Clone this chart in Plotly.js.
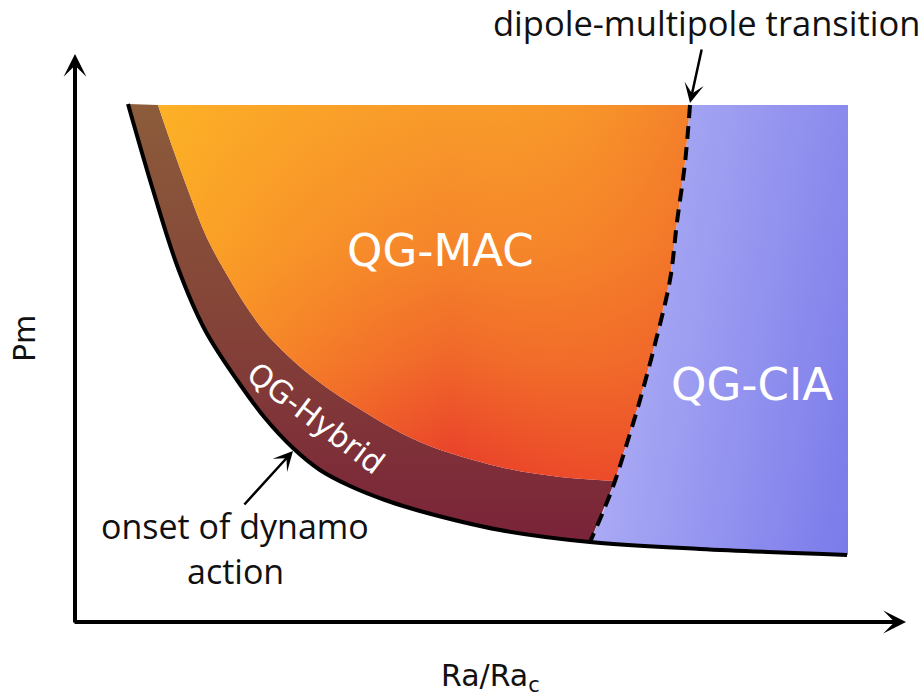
<!DOCTYPE html>
<html>
<head>
<meta charset="utf-8">
<script src="https://cdn.plot.ly/plotly-3.0.1.min.js"></script>
<style>
  html, body { margin: 0; padding: 0; background: #ffffff; }
  #chart { width: 924px; height: 697px; }
</style>
</head>
<body>
<div id="chart"></div>
<script>
// ---- schematic data (in schematic units; y grows downward) ----
// onset of dynamo action curve
const onsetX = [128, 153, 178, 205, 237, 265, 293, 320, 350, 385, 420, 500, 590, 700, 847];
const onsetY = [104, 190, 268, 330, 380, 418, 448, 470, 486, 500, 511, 530, 542, 549, 555];
// boundary between QG-Hybrid band and QG-MAC region
const hybridX = [158, 172, 188, 207, 230, 250, 272, 310, 350, 420, 500, 560, 615];
const hybridY = [105, 146, 190, 238, 280, 312, 340, 375, 403, 442, 467, 477, 481];
// dipole-multipole transition (dashed)
const transX = [690, 685, 677, 670, 656, 640, 628, 615, 603, 590];
const transY = [105, 163, 222, 280, 340, 400, 440, 481, 512, 542];
// upper and right limits of the drawn regimes
const topY = 105;
const rightX = 848;
// index in onset arrays where the transition meets the onset curve
const meetIdx = 12;

// ---- derived paths ----
const bandBaseX = onsetX.slice(0, meetIdx + 1);
const bandBaseY = onsetY.slice(0, meetIdx + 1);

const macX = [hybridX[0]].concat(transX.slice(0, 8));
const macY = [topY].concat(transY.slice(0, 8));

const blueX = [transX[0], rightX, rightX]
  .concat(onsetX.slice(meetIdx + 1).reverse().slice(1))
  .concat(transX.slice().reverse());
const blueY = [topY, topY, onsetY[onsetY.length - 1]]
  .concat(onsetY.slice(meetIdx + 1).reverse().slice(1))
  .concat(transY.slice().reverse());

const base = { type: 'scatter', mode: 'lines', hoverinfo: 'skip', showlegend: false };
const noLine = (shape) => ({ width: 0, shape: shape, color: 'rgba(0,0,0,0)' });

const traces = [
  // band base (onset curve up to transition)
  Object.assign({}, base, { x: bandBaseX, y: bandBaseY, line: noLine('spline') }),
  // QG-Hybrid band
  Object.assign({}, base, {
    x: hybridX, y: hybridY, fill: 'tonexty', line: noLine('spline'),
    fillgradient: {
      type: 'vertical', start: 105, stop: 545,
      colorscale: [[0, '#8C5C3B'], [0.5, '#844338'], [1, '#7A2239']]
    }
  }),
  // QG-MAC region (vertical gradient)
  Object.assign({}, base, {
    x: macX, y: macY, fill: 'tonexty', line: noLine('linear'),
    fillgradient: {
      type: 'vertical', start: 105, stop: 481,
      colorscale: [[0, '#F89B2A'], [0.38, '#F5842A'], [0.68, '#F0662A'], [1, '#E8392A']]
    }
  }),
  // QG-MAC region overlay (horizontal tint)
  Object.assign({}, base, {
    x: hybridX, y: hybridY, fill: 'tonexty', line: noLine('spline'),
    fillgradient: {
      type: 'horizontal', start: 160, stop: 690,
      colorscale: [[0, 'rgba(255,192,35,0.6)'], [0.55, 'rgba(255,170,40,0)'], [1, 'rgba(238,95,42,0.45)']]
    }
  }),
  // QG-CIA region
  Object.assign({}, base, {
    x: blueX, y: blueY, fill: 'toself', line: noLine('linear'),
    fillgradient: {
      type: 'horizontal', start: 600, stop: 860,
      colorscale: [[0, '#A8A8F5'], [1, '#7878EA']]
    }
  }),
  // QG-CIA region overlay (vertical light tint)
  Object.assign({}, base, {
    x: blueX, y: blueY, fill: 'toself', line: noLine('linear'),
    fillgradient: {
      type: 'vertical', start: 105, stop: 555,
      colorscale: [[0, 'rgba(255,255,255,0.12)'], [1, 'rgba(255,255,255,0)']]
    }
  }),
  // onset curve
  Object.assign({}, base, {
    x: onsetX, y: onsetY,
    line: { width: 4, shape: 'spline', color: '#000000' }
  }),
  // transition dashed line
  Object.assign({}, base, {
    x: transX, y: transY,
    line: { width: 4, shape: 'spline', color: '#000000', dash: '13px,8px' }
  })
];

function arrow(x, y, ax, ay, w, s) {
  return { x: x, y: y, ax: ax, ay: ay, xref: 'x', yref: 'y', axref: 'x', ayref: 'y',
    text: '', showarrow: true, arrowhead: 3, arrowsize: s, arrowwidth: w,
    arrowcolor: '#000000', standoff: 0, startstandoff: 0 };
}
function label(x, y, text, size, family, color, angle) {
  return { x: x, y: y, xref: 'x', yref: 'y', text: text, showarrow: false,
    xanchor: 'center', yanchor: 'middle', textangle: angle || 0,
    font: { size: size, family: family, color: color } };
}

const sans = 'Open Sans, Noto Sans, sans-serif';
const dv = 'DejaVu Sans, sans-serif';

const layout = {
  width: 924, height: 697,
  margin: { l: 0, r: 0, t: 0, b: 0 },
  paper_bgcolor: '#ffffff', plot_bgcolor: '#ffffff',
  xaxis: { range: [0, 924], visible: false, fixedrange: true },
  yaxis: { range: [697, 0], visible: false, fixedrange: true },
  showlegend: false,
  annotations: [
    arrow(75, 54, 75, 624, 4, 0.95),
    arrow(906, 622, 73, 622, 4, 0.95),
    arrow(690, 103, 702, 48, 2.5, 1.3),
    arrow(293, 451, 243, 506, 2.5, 1.3),
    label(440, 250, 'QG-MAC', 45, dv, '#ffffff'),
    label(752, 384, 'QG-CIA', 45, dv, '#ffffff'),
    label(316, 418, 'QG-Hybrid', 31, dv, '#ffffff', 37),
    label(235, 526, 'onset of dynamo', 34, sans, '#111111'),
    label(235, 571, 'action', 34, sans, '#111111'),
    label(706, 22, 'dipole-multipole transition', 34.5, sans, '#111111'),
    label(24, 339, 'Pm', 30, dv, '#111111', -90),
    label(490, 677, 'Ra/Ra<sub>c</sub>', 30, dv, '#111111')
  ]
};

Plotly.newPlot('chart', traces, layout, { staticPlot: true, displayModeBar: false });
</script>
</body>
</html>
